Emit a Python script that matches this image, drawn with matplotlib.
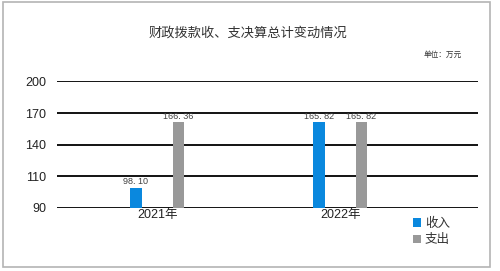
import matplotlib.pyplot as plt
from matplotlib.patches import Rectangle

plt.rcParams['font.family'] = ['Liberation Sans', 'Noto Sans CJK SC', 'DejaVu Sans']

YEARS = [u'2021年', u'2022年']
SHOURU = [98.10, 165.82]      # 收入
ZHICHU = [166.36, 165.82]     # 支出
SERIES = [u'收入', u'支出']
# gridline labels as printed on the chart (equally spaced, not linear)
TICK_LABELS = ['90', '110', '140', '170', '200']

BLUE = '#0a88de'
GRAY = '#999999'

fig = plt.figure(figsize=(5.0, 2.71), dpi=100)
fig.patches.append(Rectangle((0.006, 0.015), 0.974, 0.977, transform=fig.transFigure,
                             fill=False, edgecolor='#b4b4b4', lw=1.2))

ax = fig.add_axes([0.114, 0.2325, 0.842, 0.4668])

x = range(len(YEARS))
off = 0.1165
w = 0.062
b1 = ax.bar([i - off for i in x], SHOURU, w, color=BLUE, label=SERIES[0])
b2 = ax.bar([i + off for i in x], ZHICHU, w, color=GRAY, label=SERIES[1])

def lab(v):
    return ('%.2f' % v).replace('.', '. ')

for bars, vals in ((b1, SHOURU), (b2, ZHICHU)):
    for r, v in zip(bars, vals):
        ax.text(r.get_x() + r.get_width() / 2, v + 1.5, lab(v), ha='center', va='bottom',
                fontsize=6.5, color='#404040')

lo, hi = 77.0, 208.4
ax.set_ylim(lo, hi)
step = (hi - lo) / (len(TICK_LABELS) - 1)
ax.set_yticks([lo + k * step for k in range(len(TICK_LABELS))])
ax.set_yticklabels(TICK_LABELS, fontsize=9)
ax.set_xlim(-0.548, 1.753)
ax.set_xticks(list(x))
ax.set_xticklabels(YEARS, fontsize=9)
ax.tick_params(axis='both', length=0, colors='#222222')
ax.tick_params(axis='y', pad=8)
ax.tick_params(axis='x', pad=1)
for s in ax.spines.values():
    s.set_visible(False)
ax.set_axisbelow(True)
ax.yaxis.grid(True, color='black', lw=1.3)

fig.text(0.496, 0.878, u'财政拨款收、支决算总计变动情况', ha='center', va='center',
         fontsize=9.5, color='#333333', family=['Noto Sans CJK SC'])
fig.text(0.886, 0.797, u'单位：万元', ha='center', va='center', fontsize=5.5,
         color='#333333', family=['Noto Sans CJK SC'])

leg = fig.legend(handles=[b1, b2], loc='upper left', bbox_to_anchor=(0.815, 0.215),
                 frameon=False, fontsize=9, handlelength=0.7, handleheight=0.7,
                 handletextpad=0.3, labelspacing=0.35, borderaxespad=0)
for t in leg.get_texts():
    t.set_color('#333333')

fig.savefig('out.png', dpi=100)
